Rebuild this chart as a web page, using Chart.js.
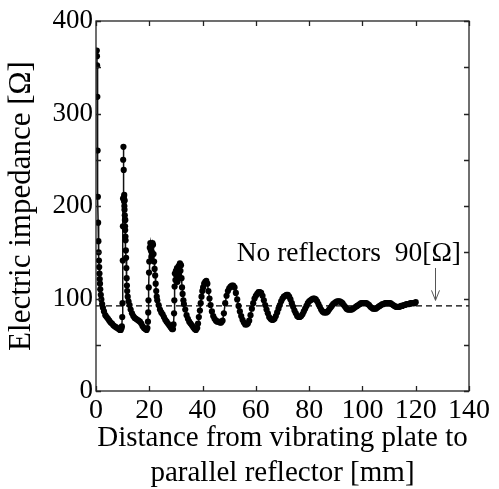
<!DOCTYPE html>
<html>
<head>
<meta charset="utf-8">
<script src="https://cdn.jsdelivr.net/npm/chart.js@4.4.0/dist/chart.umd.min.js"></script>
<style>
    html, body { margin: 0; padding: 0; background: #fff; }
    #wrap { width: 499px; height: 489px; }
</style>
</head>
<body>
<div id="wrap"><canvas id="impedanceChart"></canvas></div>
<script>
// distance from vibrating plate to reflector [mm]
const distance = [
    0.3, 0.35, 0.4, 0.5, 0.6, 0.7, 0.8, 0.9, 1.0, 1.1, 1.2, 1.3, 1.4, 1.5, 1.6, 1.8, 2.0, 2.3, 2.6, 3.0,
    3.5, 4.0, 4.5, 5.0, 5.5, 6.0, 6.5, 7.0, 7.5, 8.0, 8.5, 9.0, 9.3, 9.6, 9.7, 9.85, 9.95, 10.05, 10.1, 10.15,
    10.2, 10.3, 10.4, 10.5, 10.55, 10.6, 10.65, 10.7, 10.75, 10.8, 10.85, 10.9, 10.95, 11.0, 11.05, 11.1, 11.2, 11.3, 11.4, 11.5,
    11.6, 11.7, 11.9, 12.2, 12.6, 13.0, 13.5, 14.0, 14.5, 15.0, 15.5, 16.0, 16.5, 17.0, 17.5, 18.0, 18.5, 19.0, 19.3, 19.5,
    19.6, 19.7, 19.8, 19.9, 20.0, 20.2, 20.4, 20.6, 20.8, 21.0, 21.2, 21.4, 21.6, 21.8, 22.0, 22.2, 22.4, 22.6, 22.8, 23.0,
    23.5, 24.0, 24.5, 25.0, 25.5, 26.0, 26.5, 27.0, 27.5, 28.0, 28.5, 28.9, 29.1, 29.3, 29.4, 29.5, 29.6, 29.8, 30.0, 30.2,
    30.4, 30.6, 30.8, 31.0, 31.2, 31.5, 31.7, 31.9, 32.1, 32.3, 32.5, 32.8, 33.0, 33.5, 34.0, 34.5, 35.0, 35.5, 36.0, 36.5,
    37.0, 37.5, 38.0, 38.3, 38.6, 39.0, 39.3, 39.6, 39.9, 40.2, 40.6, 41.0, 41.4, 41.8, 42.2, 42.6, 43.0, 43.5, 44.0, 44.5,
    45.0, 45.5, 46.0, 46.5, 47.0, 47.5, 48.0, 48.5, 49.0, 49.5, 50.0, 50.5, 51.0, 51.5, 52.0, 52.5, 53.0, 53.5, 54.0, 54.5,
    55.0, 55.5, 56.0, 56.5, 57.0, 57.5, 58.0, 58.5, 59.0, 59.5, 60.0, 60.5, 61.0, 61.5, 62.0, 62.5, 63.0, 63.5, 64.0, 64.5,
    65.0, 65.5, 66.0, 66.5, 67.0, 67.5, 68.0, 68.5, 69.0, 69.5, 70.0, 70.5, 71.0, 71.5, 72.0, 72.5, 73.0, 73.5, 74.0, 74.5,
    75.0, 75.5, 76.0, 76.5, 77.0, 77.5, 78.0, 78.5, 79.0, 79.5, 80.0, 80.5, 81.0, 81.5, 82.0, 82.5, 83.0, 83.5, 84.0, 84.5,
    85.0, 85.5, 86.0, 86.5, 87.0, 87.5, 88.0, 88.5, 89.0, 89.5, 90.0, 90.5, 91.0, 91.5, 92.0, 92.5, 93.0, 93.5, 94.0, 94.5,
    95.0, 95.5, 96.0, 96.5, 97.0, 97.5, 98.0, 98.5, 99.0, 99.5, 100.0, 100.5, 101.0, 101.5, 102.0, 102.5, 103.0, 103.5, 104.0, 104.5,
    105.0, 105.5, 106.0, 106.5, 107.0, 107.5, 108.0, 108.5, 109.0, 109.5, 110.0, 110.5, 111.0, 111.5, 112.0, 112.5, 113.0, 113.5, 114.0, 114.5,
    115.0, 115.5, 116.0, 116.5, 117.0, 117.5, 118.0, 118.5, 119.0, 119.5, 120.0
];

// electric impedance [ohm]
const impedance = [
    368, 362, 352, 318, 260, 210, 182, 162, 150, 141, 134, 127, 121, 116, 110, 104, 99, 94, 90, 86,
    82, 80, 78, 76, 74, 73, 71, 70, 69, 68, 67, 66, 66, 68, 70, 80, 95, 141, 178, 208,
    250, 264, 239, 210, 205, 212, 200, 196, 206, 190, 185, 178, 174, 185, 167, 163, 152, 144, 133, 122,
    114, 108, 102, 97, 93, 88, 84, 81, 79, 78, 77, 76, 75, 73, 70, 68, 67, 66, 68, 75,
    85, 98, 112, 128, 140, 155, 160, 152, 145, 150, 160, 158, 148, 140, 132, 125, 116, 108, 102, 98,
    93, 88, 85, 83, 80, 77, 75, 73, 71, 69, 67, 67, 72, 84, 98, 113, 127, 120, 130, 125,
    133, 118, 128, 135, 124, 138, 130, 136, 122, 112, 105, 98, 94, 88, 82, 78, 75, 73, 71, 69,
    67, 66, 68, 73, 80, 87, 95, 102, 108, 112, 116, 118, 119, 116, 108, 100, 93, 86, 81, 78,
    76, 75, 75, 74, 74, 76, 84, 95, 103, 108, 111, 113, 114, 114, 112, 106, 99, 92, 86, 81,
    77, 74, 72, 72, 73, 76, 82, 89, 95, 100, 103, 105, 107, 107, 106, 103, 98, 93, 88, 84,
    80, 78, 77, 77, 78, 81, 85, 89, 93, 97, 100, 102, 103, 104, 104, 102, 99, 95, 91, 87,
    84, 81, 80, 80, 81, 83, 86, 89, 92, 95, 97, 98, 99, 100, 100, 99, 97, 94, 91, 88,
    86, 85, 85, 85, 86, 88, 90, 92, 94, 95, 96, 97, 97, 97, 96, 95, 93, 91, 89, 88,
    88, 88, 88, 89, 90, 91, 92, 93, 94, 95, 95, 95, 95, 95, 94, 93, 91, 90, 89, 89,
    89, 90, 91, 92, 93, 94, 94, 95, 95, 95, 95, 95, 94, 93, 92, 91, 91, 91, 91, 92,
    92, 93, 93, 94, 94, 94, 95, 95, 95, 95, 96
];

// impedance without reflectors (dashed reference)
const noReflector = 92;
const noReflectorLabel = 'No reflectors  90[\u03A9]';

const xTitle = ['Distance from vibrating plate to', 'parallel reflector [mm]'];
const yTitle = 'Electric impedance [\u03A9]';

const serif = "'Liberation Serif', 'Times New Roman', serif";

const points = distance.map((d, i) => ({ x: d, y: impedance[i] }));

// frame with inward ticks on all four sides + annotation
const frameTicks = {
    id: 'frameTicks',
    afterDraw(chart) {
        const ctx = chart.ctx;
        const area = chart.chartArea;
        const xs = chart.scales.x;
        const ys = chart.scales.y;
        const len = 5;

        ctx.save();
        ctx.strokeStyle = '#222';
        ctx.lineWidth = 1.3;
        ctx.strokeRect(area.left, area.top, area.right - area.left, area.bottom - area.top);

        ctx.beginPath();
        xs.ticks.forEach(t => {
            const px = Math.round(xs.getPixelForValue(t.value)) + 0.5;
            ctx.moveTo(px, area.bottom);
            ctx.lineTo(px, area.bottom - len);
            ctx.moveTo(px, area.top);
            ctx.lineTo(px, area.top + len);
        });
        ys.ticks.forEach(t => {
            const py = Math.round(ys.getPixelForValue(t.value)) + 0.5;
            ctx.moveTo(area.left, py);
            ctx.lineTo(area.left + len, py);
            ctx.moveTo(area.right, py);
            ctx.lineTo(area.right - len, py);
        });
        ctx.stroke();

        // label and arrow pointing at the dashed line
        const textX = xs.getPixelForValue(137);
        const textY = ys.getPixelForValue(140.5);
        ctx.fillStyle = '#000';
        ctx.font = '27.5px ' + serif;
        ctx.textAlign = 'right';
        ctx.textBaseline = 'alphabetic';
        ctx.fillText(noReflectorLabel, textX, textY);

        const ax = Math.round(xs.getPixelForValue(127.3)) + 0.5;
        const ay0 = ys.getPixelForValue(133);
        const ay1 = ys.getPixelForValue(noReflector + 6);
        ctx.strokeStyle = '#555';
        ctx.lineWidth = 1;
        ctx.beginPath();
        ctx.moveTo(ax, ay0);
        ctx.lineTo(ax, ay1);
        ctx.moveTo(ax - 4, ay1 - 10);
        ctx.lineTo(ax, ay1);
        ctx.lineTo(ax + 4, ay1 - 10);
        ctx.stroke();
        ctx.restore();
    }
};

const ctx = document.getElementById('impedanceChart');

new Chart(ctx, {
    type: 'line',
    data: {
        datasets: [{
            label: 'Impedance',
            data: points,
            borderColor: '#111',
            borderWidth: 1.5,
            backgroundColor: '#000',
            pointRadius: 3.1,
            pointBorderWidth: 0,
            pointBackgroundColor: '#000',
            tension: 0
        }, {
            label: 'No reflectors',
            data: [{ x: 0, y: noReflector }, { x: 140, y: noReflector }],
            borderColor: '#000',
            borderWidth: 1.3,
            borderDash: [6, 4],
            pointRadius: 0
        }]
    },
    plugins: [frameTicks],
    options: {
        responsive: true,
        maintainAspectRatio: false,
        animation: false,
        layout: {
            padding: { left: 0, right: 30, top: 21, bottom: 0 }
        },
        plugins: {
            legend: { display: false },
            tooltip: { enabled: false }
        },
        scales: {
            x: {
                type: 'linear',
                min: 0,
                max: 140,
                grid: { display: false, drawTicks: false },
                border: { display: false },
                ticks: {
                    stepSize: 20,
                    autoSkip: false,
                    maxRotation: 0,
                    padding: 3,
                    color: '#000',
                    font: { family: serif, size: 28 }
                },
                title: {
                    display: true,
                    text: xTitle,
                    color: '#000',
                    padding: { top: 0, bottom: -2 },
                    font: { family: serif, size: 29, lineHeight: 1.2 }
                },
                afterFit: function(scale) {
                    scale.height = 98;
                }
            },
            y: {
                min: 0,
                max: 400,
                grid: { display: false, drawTicks: false },
                border: { display: false },
                ticks: {
                    stepSize: 50,
                    autoSkip: false,
                    padding: 3,
                    color: '#000',
                    font: { family: serif, size: 27 },
                    callback: function(value) {
                        return value % 100 === 0 ? value : '';
                    }
                },
                title: {
                    display: true,
                    text: yTitle,
                    color: '#000',
                    padding: { top: 3, bottom: 0 },
                    font: { family: serif, size: 31, lineHeight: 1.2 }
                },
                afterFit: function(scale) {
                    scale.width = 96;
                }
            }
        }
    }
});
</script>
</body>
</html>
